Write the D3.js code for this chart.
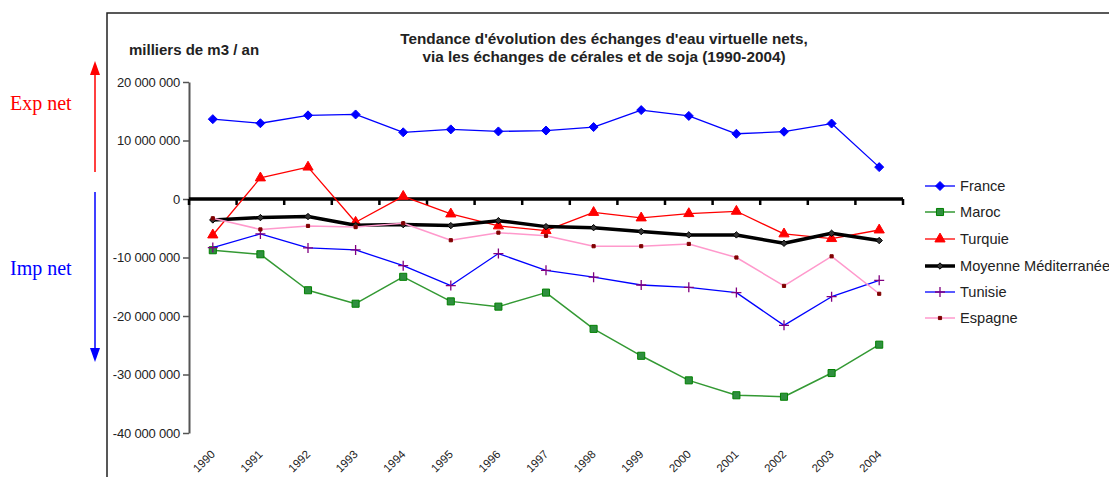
<!DOCTYPE html>
<html>
<head>
<meta charset="utf-8">
<script src="https://cdn.jsdelivr.net/npm/d3@7"></script>
<style>
  html, body { margin: 0; padding: 0; background: #fff; overflow: hidden; }
  svg { display: block; font-family: "Liberation Sans", Arial, sans-serif; }
</style>
</head>
<body>
<div id="chart"></div>
<script>
"use strict";
const years = [1990, 1991, 1992, 1993, 1994, 1995, 1996, 1997, 1998, 1999, 2000, 2001, 2002, 2003, 2004];
const france = [13650000, 12950000, 14300000, 14450000, 11400000, 11900000, 11550000, 11700000, 12300000, 15200000, 14200000, 11150000, 11500000, 12900000, 5450000];
const maroc = [-8760000, -9450000, -15600000, -17900000, -13300000, -17500000, -18400000, -16000000, -22200000, -26800000, -31000000, -33550000, -33800000, -29750000, -24900000];
const turquie = [-6150000, 3600000, 5450000, -3980000, 450000, -2560000, -4600000, -5400000, -2300000, -3240000, -2500000, -2100000, -5970000, -6770000, -5300000];
const moyenne = [-3580000, -3180000, -3000000, -4500000, -4380000, -4550000, -3700000, -4720000, -4900000, -5570000, -6140000, -6140000, -7570000, -5860000, -7100000];
const tunisie = [-8300000, -5970000, -8360000, -8700000, -11400000, -14800000, -9330000, -12200000, -13370000, -14700000, -15100000, -16000000, -21600000, -16700000, -13900000];
const espagne = [-3300000, -5200000, -4600000, -4800000, -4150000, -7050000, -5750000, -6300000, -8070000, -8070000, -7680000, -10000000, -14850000, -9800000, -16200000];
const yTicks = [20000000, 10000000, 0, -10000000, -20000000, -30000000, -40000000];
const seriesNames = ["France", "Maroc", "Turquie", "Moyenne Méditerranée", "Tunisie", "Espagne"];
const titleLines = ["Tendance d'évolution des échanges d'eau virtuelle nets,", "via les échanges de cérales et de soja (1990-2004)"];

const width = 1109, height = 477;

// series styles
const styles = {
  "France": { line: "#0000ff", lw: 1.3, marker: "diamond", size: 4.5, fill: "#0000ff", stroke: "#0000ff" },
  "Maroc": { line: "#339933", lw: 1.5, marker: "square", size: 50, fill: "#2f8f3f", stroke: "#008000" },
  "Turquie": { line: "#ff0000", lw: 1.3, marker: "triangle", size: 45, fill: "#ff0000", stroke: "#ff0000" },
  "Moyenne Méditerranée": { line: "#000000", lw: 3.5, marker: "diamond", size: 3.2, fill: "#333333", stroke: "#000000" },
  "Tunisie": { line: "#0000ff", lw: 1.3, marker: "plus", size: 10, fill: "none", stroke: "#800080" },
  "Espagne": { line: "#ff99cc", lw: 1.5, marker: "square", size: 10, fill: "#800000", stroke: "#800000" }
};
const seriesData = {
  "France": france, "Maroc": maroc, "Turquie": turquie,
  "Moyenne Méditerranée": moyenne, "Tunisie": tunisie, "Espagne": espagne
};

const svg = d3.select("#chart").append("svg")
  .attr("width", width)
  .attr("height", height);

// chart frame (top and left)
svg.append("path")
  .attr("d", `M107,${height} L107,13 L${width},13`)
  .attr("fill", "none")
  .attr("stroke", "#222")
  .attr("stroke-width", 1.5);

const x = d3.scaleBand().domain(years).range([189, 903]);
const y = d3.scaleLinear().domain([-40000000, 20000000]).range([433, 82]);
const cx = d => x(d) + x.bandwidth() / 2;

// y axis
const fmt = v => d3.format(",")(v).replace(/,/g, " ").replace("−", "-");
const yAxis = svg.append("g")
  .attr("transform", "translate(189,0)")
  .call(d3.axisLeft(y).tickValues(yTicks).tickSize(6).tickSizeOuter(0).tickFormat(fmt));
yAxis.select(".domain").attr("stroke", "#555").attr("stroke-width", 2);
yAxis.selectAll(".tick line").attr("stroke", "#555").attr("stroke-width", 1.5);
yAxis.selectAll(".tick text")
  .attr("x", -9)
  .attr("fill", "#222")
  .style("font-size", "13px")
  .style("font-family", "'Liberation Sans', Arial, sans-serif")
  .style("letter-spacing", "-0.2px");

// zero axis with category ticks
const zeroY = y(0);
svg.append("line")
  .attr("x1", x.range()[0]).attr("x2", x.range()[1])
  .attr("y1", zeroY).attr("y2", zeroY)
  .attr("stroke", "#000").attr("stroke-width", 3.5);
svg.append("g").selectAll("line")
  .data(years.map(d => x(d)).concat([x.range()[1]]))
  .join("line")
  .attr("x1", d => d).attr("x2", d => d)
  .attr("y1", zeroY).attr("y2", zeroY + 6)
  .attr("stroke", "#000").attr("stroke-width", 2.5);

// year labels
svg.append("g").selectAll("text")
  .data(years)
  .join("text")
  .attr("transform", d => `translate(${cx(d) + 3},455) rotate(-45)`)
  .attr("text-anchor", "end")
  .style("font-size", "11.5px")
  .attr("fill", "#222")
  .text(d => d);

function markerPath(kind, size) {
  if (kind === "plus") {
    const h = size / 2;
    return `M${-h},0L${h},0M0,${-h}L0,${h}`;
  }
  if (kind === "diamond") {
    return `M0,${-size}L${size},0L0,${size}L${-size},0Z`;
  }
  const type = kind === "square" ? d3.symbolSquare : d3.symbolTriangle;
  return d3.symbol().type(type).size(size)();
}

const line = d3.line().x((d, i) => cx(years[i])).y(d => y(d));

seriesNames.forEach(name => {
  const st = styles[name];
  const vals = seriesData[name];
  const g = svg.append("g");
  g.append("path")
    .datum(vals)
    .attr("d", line)
    .attr("fill", "none")
    .attr("stroke", st.line)
    .attr("stroke-width", st.lw)
    .attr("stroke-linejoin", "round");
  g.selectAll("path.mk")
    .data(vals)
    .join("path")
    .attr("class", "mk")
    .attr("transform", (d, i) => `translate(${cx(years[i])},${y(d)})`)
    .attr("d", markerPath(st.marker, st.size))
    .attr("fill", st.fill)
    .attr("stroke", st.stroke)
    .attr("stroke-width", st.marker === "plus" ? 1.3 : 1);
});

// legend
const legendY = [186, 212, 239, 266, 292, 318];
const legend = svg.append("g").selectAll("g")
  .data(seriesNames)
  .join("g")
  .attr("transform", (d, i) => `translate(925,${legendY[i]})`);
legend.append("line")
  .attr("x1", 0).attr("x2", 30)
  .attr("stroke", d => styles[d].line)
  .attr("stroke-width", d => styles[d].lw);
legend.append("path")
  .attr("transform", "translate(15,0)")
  .attr("d", d => markerPath(styles[d].marker, styles[d].size))
  .attr("fill", d => styles[d].fill)
  .attr("stroke", d => styles[d].stroke)
  .attr("stroke-width", d => styles[d].marker === "plus" ? 1.3 : 1);
legend.append("text")
  .attr("x", 35)
  .attr("dy", "0.35em")
  .style("font-size", "14.6px")
  .attr("fill", "#222")
  .text(d => d);

// titles
svg.append("g").selectAll("text")
  .data(titleLines)
  .join("text")
  .attr("x", 604)
  .attr("y", (d, i) => 44 + i * 18)
  .attr("text-anchor", "middle")
  .style("font-size", "15.3px")
  .style("font-weight", "bold")
  .attr("fill", "#222")
  .text(d => d);

svg.append("text")
  .attr("x", 129)
  .attr("y", 55)
  .style("font-size", "15px")
  .style("font-weight", "bold")
  .attr("fill", "#222")
  .text("milliers de m3 / an");

// export / import arrows
const arrows = [
  { label: "Exp net", color: "#ff0000", from: 172, to: 61, textY: 110 },
  { label: "Imp net", color: "#0000ff", from: 192, to: 362, textY: 275 }
];
arrows.forEach(a => {
  const dir = a.to < a.from ? 1 : -1;
  svg.append("line")
    .attr("x1", 95).attr("x2", 95)
    .attr("y1", a.from).attr("y2", a.to + dir * 12)
    .attr("stroke", a.color).attr("stroke-width", 1.5);
  svg.append("path")
    .attr("d", `M95,${a.to}L90,${a.to + dir * 14}L100,${a.to + dir * 14}Z`)
    .attr("fill", a.color);
  svg.append("text")
    .attr("x", 10)
    .attr("y", a.textY)
    .style("font-family", "'Liberation Serif', 'Times New Roman', serif")
    .style("font-size", "20px")
    .attr("fill", a.color)
    .text(a.label);
});
</script>
</body>
</html>
